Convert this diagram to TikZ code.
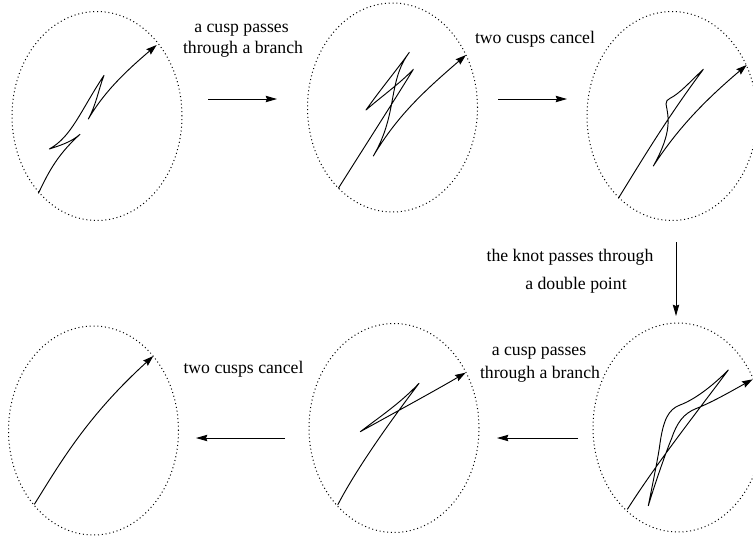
\documentclass[tikz,border=0pt]{standalone}
\usepackage{fontspec}
\setmainfont{Liberation Serif}
\usetikzlibrary{arrows.meta,shapes.geometric}
\tikzset{
  disc/.style={ellipse,draw,line width=.75pt,dash pattern=on .75pt off 2.1pt,inner sep=0pt,minimum width=127.5pt,minimum height=156.75pt},
  knot/.style={line width=.7pt,line join=round,-{Stealth[length=8pt,width=5.2pt,inset=1pt]}},
  move/.style={line width=.7pt,-{Stealth[length=8.5pt,width=4.8pt,inset=1pt]}},
  lab/.style={anchor=base,inner sep=0pt,font=\fontsize{13.28}{16}\selectfont},
  fine/.style={x=.25pt,y=-.25pt}
}
\begin{document}
\begin{tikzpicture}[x=.75pt,y=-.75pt]
\useasboundingbox (0,0) rectangle (753,540);
% discs
\node[disc] (d1) at (97,116) {};
\node[disc] (d2) at (392.5,107.5) {};
\node[disc] (d3) at (672,116) {};
\node[disc] (d4) at (678,427.5) {};
\node[disc] (d5) at (394,428) {};
\node[disc] (d6) at (93.5,430.5) {};
% knots
\begin{scope}[shift={(0,0)},fine]
\draw[knot] (115,580) .. controls (140,530) and (165,470) .. (240,403)
  .. controls (215,425) and (185,435) .. (148,447)
  .. controls (215,410) and (240,335) .. (312,226)
  .. controls (295,270) and (290,310) .. (265,357)
  .. controls (310,280) and (370,220) .. (470,135);
\end{scope}
\begin{scope}[shift={(300,0)},fine]
\draw[knot] (115,565) .. controls (200,430) and (290,290) .. (340,208)
  .. controls (300,250) and (250,285) .. (198,330)
  .. controls (240,270) and (290,210) .. (328,157)
  .. controls (262,245) and (295,340) .. (220,468)
  .. controls (290,350) and (370,275) .. (498,165);
\end{scope}
\begin{scope}[shift={(580,0)},fine]
\draw[knot] (115,595) .. controls (180,490) and (260,355) .. (370,208)
  .. controls (330,245) and (300,280) .. (270,295)
  .. controls (262,299) and (258,303) .. (258,312)
  .. controls (265,350) and (278,395) .. (220,498)
  .. controls (290,390) and (370,305) .. (500,195);
\end{scope}
\begin{scope}[shift={(580,320)},fine]
\draw[knot] (142,568) .. controls (230,430) and (340,290) .. (445,150)
  .. controls (390,205) and (340,240) .. (300,255)
  .. controls (265,268) and (250,300) .. (240,370)
  .. controls (235,410) and (220,480) .. (205,557)
  .. controls (225,490) and (260,390) .. (275,355)
  .. controls (290,310) and (310,280) .. (350,265)
  .. controls (400,245) and (460,210) .. (518,178);
\end{scope}
\begin{scope}[shift={(300,320)},fine]
\draw[knot] (113,555) .. controls (170,445) and (270,305) .. (357,190)
  .. controls (300,250) and (240,290) .. (181,335)
  .. controls (280,280) and (400,215) .. (497,158);
\end{scope}
\begin{scope}[shift={(0,320)},fine]
\draw[knot] (103,553) .. controls (180,430) and (260,290) .. (460,108);
\end{scope}
% moves
\coordinate (a1s) at (208,99); \coordinate (a1e) at (277,99);
\coordinate (a2s) at (498,99); \coordinate (a2e) at (567,99);
\coordinate (a3s) at (676,242); \coordinate (a3e) at (676,316);
\coordinate (a4s) at (578,438); \coordinate (a4e) at (497,438);
\coordinate (a5s) at (285,438); \coordinate (a5e) at (196,438);
\draw[move] (a1s) -- (a1e);
\draw[move] (a2s) -- (a2e);
\draw[move] (a3s) -- (a3e);
\draw[move] (a4s) -- (a4e);
\draw[move] (a5s) -- (a5e);
% labels
\node[lab] (t1) at (241.5,32) {a cusp passes};
\node[lab] (t2) at (243,53) {through a branch};
\node[lab] (t3) at (535,43) {two cusps cancel};
\node[lab] (t4) at (570,261) {the knot passes through};
\node[lab] (t5) at (576,289) {a double point};
\node[lab] (t6) at (539,355) {a cusp passes};
\node[lab] (t7) at (540,378) {through a branch};
\node[lab] (t8) at (243.5,373) {two cusps cancel};
\end{tikzpicture}
\end{document}
